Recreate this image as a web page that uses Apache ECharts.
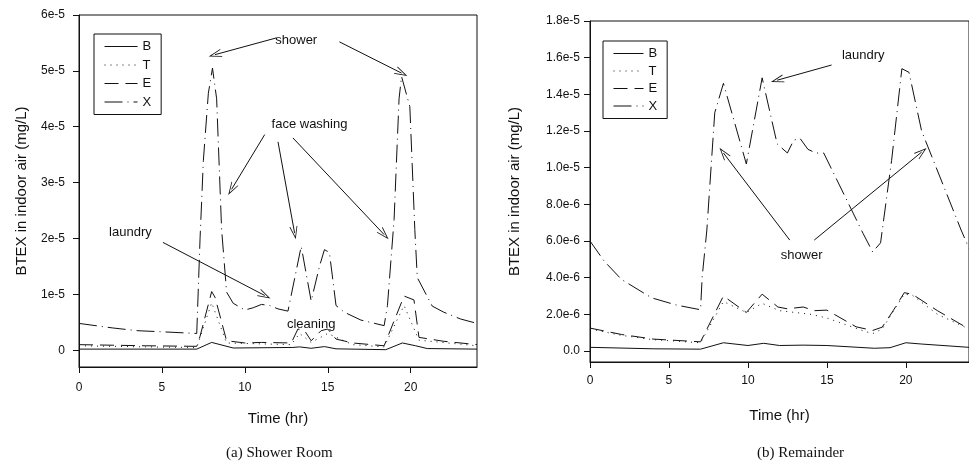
<!DOCTYPE html>
<html>
<head>
<meta charset="utf-8">
<script src="https://cdn.jsdelivr.net/npm/echarts@6/dist/echarts.min.js"></script>
<style>
  html, body { margin: 0; padding: 0; background: #fff; }
  #chart { width: 969px; height: 468px; }
</style>
</head>
<body>
<div id="chart"></div>
<script>
// values are in units of 1e-6 mg/L, time in hours
const seriesNames = ["B", "T", "E", "X"];

// (a) Shower Room
const showerB = [[0, 0.2], [7.1, 0.2], [8.0, 1.4], [9.3, 0.4], [12.9, 0.5], [13.3, 0.6], [14, 0.35], [14.8, 0.65], [15.5, 0.25], [18.5, 0.1], [19.5, 1.3], [20.3, 0.8], [21, 0.3], [24, 0.2]];
const showerT = [[0, 0.8], [4, 0.6], [7.1, 0.5], [8.0, 8.5], [8.9, 1.3], [12.8, 1.0], [13.3, 3.0], [14, 1.4], [15, 3.0], [16.5, 1.0], [18.4, 0.6], [19.6, 8.0], [20.5, 1.8], [24, 0.8]];
const showerE = [[0, 1.0], [2, 0.9], [4, 0.8], [7.1, 0.7], [7.3, 2.5], [8.0, 10.5], [8.2, 9.5], [8.9, 1.7], [10, 1.3], [11, 1.4], [12.8, 1.3], [13.2, 3.8], [13.6, 3.5], [14, 1.7], [14.6, 3.5], [15, 3.8], [15.5, 2.0], [16.5, 1.3], [18.4, 0.8], [19.6, 9.7], [20.2, 9.0], [20.5, 2.3], [22, 1.6], [24, 1.0]];
const showerX = [[0, 4.8], [2, 4.0], [3.5, 3.5], [5, 3.3], [7.1, 3.0], [7.3, 20], [7.5, 34], [7.8, 46], [8.05, 50.5], [8.3, 45], [8.6, 21.6], [8.9, 10.4], [9.3, 8.4], [10, 7.2], [10.5, 7.6], [11, 8.2], [11.5, 8.0], [12, 7.4], [12.6, 7.0], [13.4, 18.6], [14.0, 8.8], [14.5, 15], [14.8, 18], [15.1, 17.5], [15.5, 8.0], [16, 6.8], [17, 5.4], [18.4, 4.4], [18.6, 8], [19.0, 23.4], [19.3, 45], [19.45, 49], [19.95, 43.6], [20.25, 21.6], [20.4, 13], [21.3, 7.9], [22, 6.8], [23, 5.6], [24, 4.8]];

// (b) Remainder
const remainB = [[0, 0.2], [4, 0.12], [7, 0.1], [8.45, 0.45], [10, 0.3], [11, 0.42], [12, 0.3], [13.5, 0.32], [15, 0.3], [18, 0.15], [19, 0.18], [20, 0.45], [21, 0.38], [24, 0.2]];
const remainT = [[0, 1.2], [2, 0.85], [4, 0.62], [7, 0.45], [8.45, 2.7], [9.9, 2.1], [10.9, 2.6], [12, 2.2], [13, 2.1], [14, 2.0], [15, 1.8], [17.3, 1.1], [17.9, 0.95], [18.5, 1.2], [19.9, 3.1], [20.4, 3.05], [22, 2.0], [24, 1.2]];
const remainE = [[0, 1.25], [2, 0.9], [4, 0.65], [7, 0.5], [8.45, 3.0], [9.9, 2.1], [10.9, 3.1], [11.9, 2.4], [12.5, 2.3], [13.5, 2.4], [14.2, 2.2], [15, 2.23], [16.85, 1.32], [17.9, 1.12], [18.5, 1.3], [19.2, 2.2], [19.9, 3.18], [20.4, 3.1], [22, 2.2], [24, 1.2]];
const remainX = [[0, 6.0], [0.9, 4.9], [2, 3.9], [3.9, 2.9], [5.5, 2.5], [7.0, 2.25], [7.1, 4.0], [7.4, 6.6], [7.9, 13.0], [8.45, 14.6], [9.9, 10.2], [10.9, 14.9], [11.85, 11.3], [12.5, 10.8], [12.9, 11.5], [13.3, 11.6], [13.8, 11.0], [14.3, 10.8], [14.8, 10.8], [17.3, 6.4], [17.9, 5.4], [18.4, 5.9], [19.1, 10.4], [19.75, 15.4], [20.2, 15.2], [21, 12.0], [23.5, 6.6], [24, 5.6]];

// tick values and labels
const timeTicks = [0, 5, 10, 15, 20];
const showerTicks = [0, 10, 20, 30, 40, 50, 60];
const showerTickLabels = ["0", "1e-5", "2e-5", "3e-5", "4e-5", "5e-5", "6e-5"];
const remainTicks = [0, 2, 4, 6, 8, 10, 12, 14, 16, 18];
const remainTickLabels = ["0.0", "2.0e-6", "4.0e-6", "6.0e-6", "8.0e-6", "1.0e-5", "1.2e-5", "1.4e-5", "1.6e-5", "1.8e-5"];

// annotations (data coordinates)
const showerArrows = [
  [[11.9, 55.9], [8.2, 52.9]],
  [[15.7, 55.2], [19.45, 49.6]],
  [[11.2, 38.6], [9.2, 28.8]],
  [[12.0, 37.3], [13.0, 21.0]],
  [[12.9, 38.0], [18.4, 20.7]],
  [[5.06, 19.3], [11.2, 9.8]]
];
const showerNotes = [["shower", 13.1, 55.5], ["face washing", 13.9, 40.5], ["laundry", 3.1, 21.0], ["cleaning", 14.0, 4.7]];
const remainArrows = [
  [[15.3, 15.6], [11.85, 14.77]],
  [[12.65, 6.05], [8.45, 10.8]],
  [[14.2, 6.05], [21.0, 10.85]]
];
const remainNotes = [["laundry", 17.3, 16.1], ["shower", 13.4, 5.2]];

const ink = "#111";
const font = "Liberation Sans";
const arrowHead = "path://M5,0 L10,12 L9,12 L5,2.6 L1,12 L0,12 Z";
const dashTypes = { B: "solid", T: [1, 5], E: [14, 7], X: [18, 5, 1, 5] };

function tickFormatter(ticks, labels) {
  return (v) => {
    const i = ticks.findIndex((t) => Math.abs(t - v) < 1e-9);
    return i >= 0 ? labels[i] : "";
  };
}

function makeSeries(data, name, idx, arrows, notes) {
  const s = {
    type: "line",
    name: name,
    xAxisIndex: idx,
    yAxisIndex: idx,
    data: data,
    symbol: "none",
    color: ink,
    lineStyle: { color: ink, width: 1, type: dashTypes[name] },
    emphasis: { disabled: true },
    silent: true,
  };
  if (arrows) {
    s.markLine = {
      silent: true,
      symbol: ["none", arrowHead],
      symbolSize: [8, 13],
      label: { show: false },
      lineStyle: { color: ink, width: 1, type: "solid" },
      itemStyle: { color: ink },
      data: arrows.map((a) => [{ coord: a[0] }, { coord: a[1] }]),
    };
    s.markPoint = {
      silent: true,
      symbol: "circle",
      symbolSize: 0,
      label: {
        show: true,
        position: "inside",
        color: ink,
        fontFamily: font,
        fontSize: 13,
        formatter: (p) => p.name,
      },
      data: notes.map((n) => ({ name: n[0], coord: [n[1], n[2]] })),
    };
  }
  return s;
}

function xAxisFor(idx, margin, gap) {
  return {
    type: "value",
    gridIndex: idx,
    min: 0,
    max: 24,
    name: "Time (hr)",
    nameLocation: "middle",
    nameGap: gap,
    nameTextStyle: { color: ink, fontFamily: font, fontSize: 15 },
    axisLine: { show: true, onZero: false, lineStyle: { color: ink, width: 1 } },
    axisTick: { show: true, length: 6, customValues: timeTicks, lineStyle: { color: ink } },
    axisLabel: { color: ink, fontFamily: font, fontSize: 12, margin: margin, customValues: timeTicks },
    splitLine: { show: false },
  };
}

function yAxisFor(idx, min, max, ticks, labels, gap, margin) {
  return {
    type: "value",
    gridIndex: idx,
    min: min,
    max: max,
    name: "BTEX in indoor air (mg/L)",
    nameLocation: "middle",
    nameRotate: 90,
    nameGap: gap,
    nameTextStyle: { color: ink, fontFamily: font, fontSize: 15 },
    axisLine: { show: true, onZero: false, lineStyle: { color: ink, width: 1 } },
    axisTick: { show: true, length: 6, customValues: ticks, lineStyle: { color: ink } },
    axisLabel: { color: ink, fontFamily: font, fontSize: 12, margin: margin, customValues: ticks, formatter: tickFormatter(ticks, labels) },
    splitLine: { show: false },
  };
}

function legendFor(left, top, itemWidth, itemGap) {
  return {
    data: seriesNames,
    orient: "vertical",
    left: left,
    top: top,
    itemWidth: itemWidth,
    itemHeight: 12,
    itemGap: itemGap,
    padding: [6, 10, 6, 10],
    borderColor: ink,
    borderWidth: 1,
    selectedMode: false,
    itemStyle: { opacity: 0 },
    lineStyle: { width: 1 },
    textStyle: { color: ink, fontFamily: font, fontSize: 13 },
  };
}

const chart = echarts.init(document.getElementById("chart"), null, { renderer: "canvas" });

const showerData = [showerB, showerT, showerE, showerX];
const remainData = [remainB, remainT, remainE, remainX];

const series = [];
seriesNames.forEach((n, i) => series.push(makeSeries(showerData[i], n, 0, i === 3 ? showerArrows : null, showerNotes)));
seriesNames.forEach((n, i) => series.push(makeSeries(remainData[i], n, 1, i === 3 ? remainArrows : null, remainNotes)));

chart.setOption({
  animation: false,
  backgroundColor: "#fff",
  grid: [
    { left: 79, top: 15, right: 492, bottom: 101, show: true, borderColor: ink, borderWidth: 1 },
    { left: 590, top: 21, right: -10, bottom: 106, show: true, borderColor: ink, borderWidth: 1 },
  ],
  legend: [legendFor(94, 34, 33, 5.5), legendFor(603, 41, 30, 4.5)],
  xAxis: [xAxisFor(0, 15, 44), xAxisFor(1, 13, 46)],
  yAxis: [
    yAxisFor(0, -3, 60, showerTicks, showerTickLabels, 50, 14),
    yAxisFor(1, -0.6, 18, remainTicks, remainTickLabels, 68, 10),
  ],
  graphic: [
    { type: "text", left: 226, top: 446, style: { text: "(a) Shower Room", font: "15px 'Liberation Serif'", fill: ink } },
    { type: "text", left: 757, top: 446, style: { text: "(b) Remainder", font: "15px 'Liberation Serif'", fill: ink } },
  ],
  series: series,
});
</script>
</body>
</html>
